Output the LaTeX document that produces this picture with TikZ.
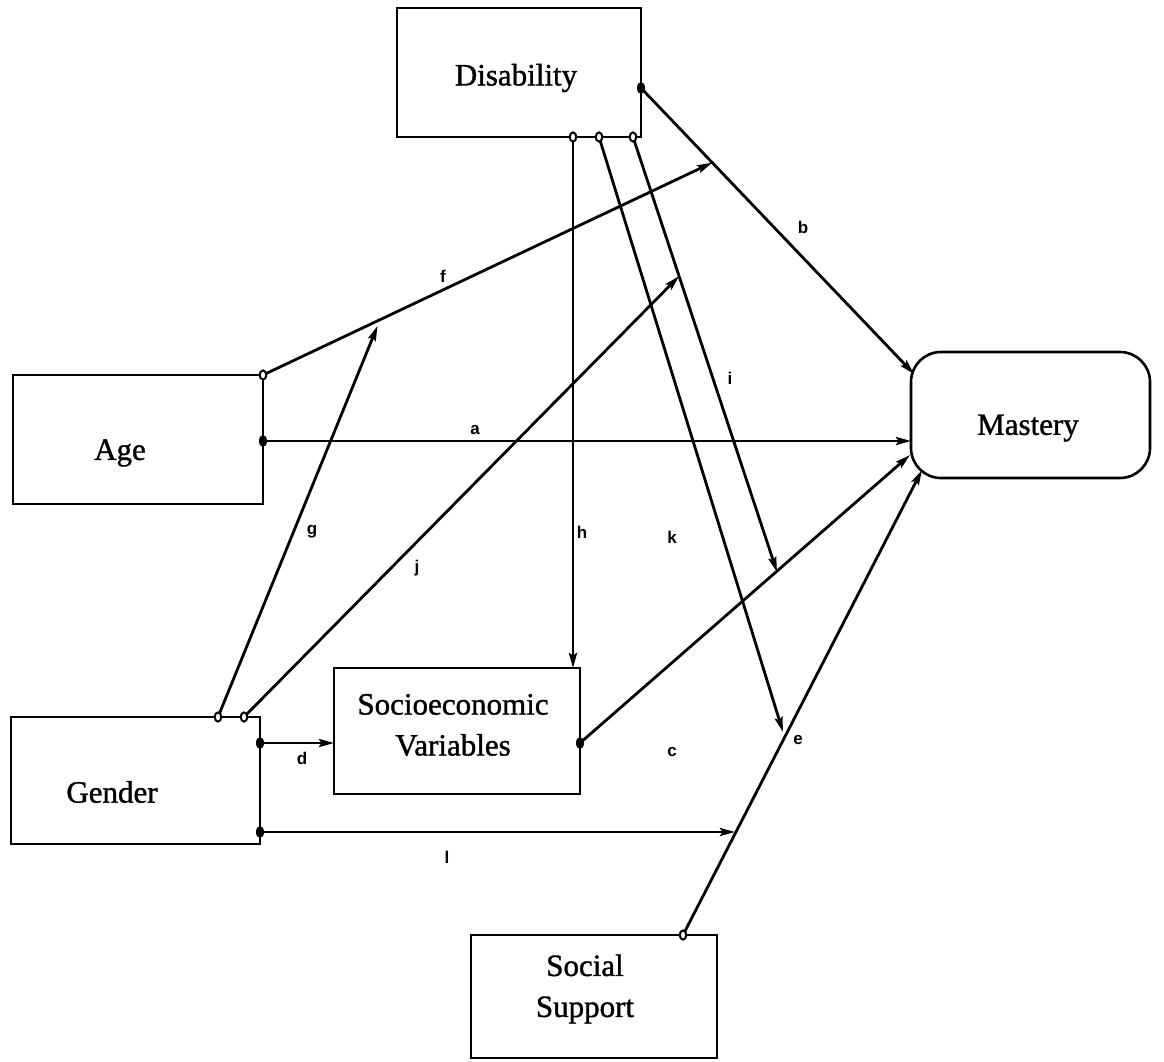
\documentclass[tikz,border=0pt]{standalone}
\usepackage{fontspec}
\setmainfont{Liberation Serif}[FakeBold=1.2]
\newfontfamily\labfont{Liberation Sans}
\usetikzlibrary{arrows.meta,calc}
\begin{document}
\begin{tikzpicture}[x=1pt,y=-1pt,
  box/.style={draw,line width=2.6pt,minimum width=#1},
  boxtext/.style={font=\fontsize{31}{41}\selectfont,align=center,inner sep=0pt},
  conn/.style={line width=2.8pt,-{Stealth[length=15pt,width=8pt,inset=2.5pt]}},
  lab/.style={font=\labfont\bfseries\fontsize{17}{17}\selectfont,inner sep=0pt},
  fdot/.style={fill=black},
  odot/.style={draw=black,fill=white,line width=2pt}]
\useasboundingbox (0,0) rectangle (1164,1062);
% boxes
\node[box=244pt,minimum height=129pt] (dis) at (519,72.5) {};
\node[box=250pt,minimum height=129pt] (age) at (138,439.5) {};
\node[box=239pt,minimum height=126pt,rounded corners=30pt] (mas) at (1030.5,415) {};
\node[box=249pt,minimum height=127pt] (gen) at (135.5,780.5) {};
\node[box=246pt,minimum height=126pt] (ses) at (457,731) {};
\node[box=246pt,minimum height=123pt] (sos) at (594,996.5) {};
% box texts
\node[boxtext] (disT) at (516,78) {Disability};
\node[boxtext] (ageT) at (120,453) {Age};
\node[boxtext] (masT) at (1028,428) {Mastery};
\node[boxtext] (genT) at (112,792) {Gender};
\node[boxtext] (sesT) at (453,725) {Socioeconomic\\Variables};
\node[boxtext] (sosT) at (585,989) {Social\\Support};
% ports
\coordinate (disB) at (641,88);
\coordinate (disH) at (573,137);
\coordinate (disK) at (599,137);
\coordinate (disI) at (633,137);
\coordinate (ageF) at (263,375);
\coordinate (ageA) at (263,441);
\coordinate (genG) at (218,717);
\coordinate (genJ) at (244,717);
\coordinate (genD) at (260,743);
\coordinate (genL) at (260,832);
\coordinate (sesC) at (580,743);
\coordinate (sesD) at (334,743);
\coordinate (sesH) at (573,668);
\coordinate (sosE) at (683,935);
\coordinate (masB) at (914,374);
\coordinate (masA) at (911,441);
\coordinate (masC) at (910,455);
\coordinate (masE) at (922,470);
% targets on other paths
\coordinate (fEnd) at ($(disB)!0.261!(masB)$);
\coordinate (gEnd) at ($(ageF)!0.255!(fEnd)+(0,5)$);
\coordinate (iEnd) at (777,572);
\coordinate (jEnd) at ($(disI)!0.320!(iEnd)$);
\coordinate (kEnd) at (783,732);
\coordinate (lEnd) at (735,832);
% connectors
\draw[conn] (disB) -- (masB);
\draw[conn] (ageF) -- (fEnd);
\draw[conn] (ageA) -- (masA);
\draw[conn] (genG) -- (gEnd);
\draw[conn] (genJ) -- (jEnd);
\draw[conn] (disH) -- (sesH);
\draw[conn] (disI) -- (iEnd);
\draw[conn] (disK) -- (kEnd);
\draw[conn] (genD) -- (sesD);
\draw[conn] (sesC) -- (masC);
\draw[conn] (sosE) -- (masE);
\draw[conn] (genL) -- (lEnd);
% labels
\node[lab] (la) at (475,430) {a};
\node[lab] (lb) at (803,227) {b};
\node[lab] (lc) at (672,752) {c};
\node[lab] (ld) at (302,758) {d};
\node[lab] (le) at (798,740) {e};
\node[lab] (lf) at (443,276) {f};
\node[lab] (lg) at (312,532) {g};
\node[lab] (lh) at (582,532) {h};
\node[lab] (li) at (730,378) {i};
\node[lab] (lj) at (417,568) {j};
\node[lab] (lk) at (672,537) {k};
\node[lab] (ll) at (447,857) {l};
% dots
\fill[fdot] (disB) ellipse (4 and 6);
\fill[fdot] (ageA) ellipse (4 and 6);
\fill[fdot] (genD) ellipse (4 and 6);
\fill[fdot] (genL) ellipse (4 and 6);
\fill[fdot] (sesC) ellipse (4 and 6);
\draw[odot] (ageF) ellipse (3.3 and 4.6);
\draw[odot] (disH) ellipse (3.3 and 4.6);
\draw[odot] (disK) ellipse (3.3 and 4.6);
\draw[odot] (disI) ellipse (3.3 and 4.6);
\draw[odot] (genG) ellipse (3.3 and 4.6);
\draw[odot] (genJ) ellipse (3.3 and 4.6);
\draw[odot] (sosE) ellipse (3.3 and 4.6);
\end{tikzpicture}
\end{document}
